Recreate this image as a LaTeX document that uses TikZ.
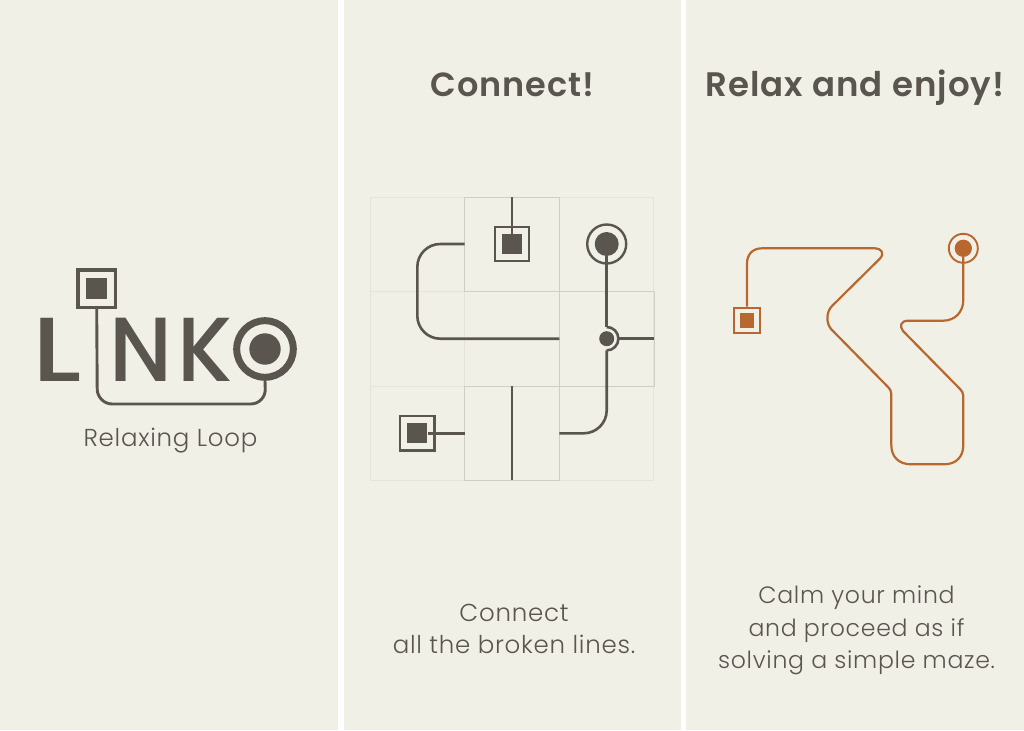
\documentclass[tikz,border=0pt]{standalone}
\usepackage{fontspec}
\setmainfont{Poppins}
\newfontfamily\lightf[LetterSpace=3]{Poppins Light}
\newfontfamily\medf{Poppins Medium}
\newfontfamily\headf[LetterSpace=3]{Poppins SemiBold}
\definecolor{paper}{HTML}{F1F0E7}
\definecolor{ink}{HTML}{5A554F}
\definecolor{rust}{HTML}{B8682E}
\definecolor{gridA}{HTML}{E5E4DB}
\definecolor{gridB}{HTML}{CFCEC4}
\tikzset{
  panel/.style={fill=paper,draw=none},
  logoletter/.style={text=ink,inner sep=0pt,anchor=base,font=\medf\fontsize{91}{91}\selectfont},
  caption/.style={text=ink,inner sep=0pt,anchor=base,font=\lightf\fontsize{24.5}{24.5}\selectfont},
  captionb/.style={text=ink,inner sep=0pt,anchor=base,font=\lightf\fontsize{23.6}{23.6}\selectfont},
  heading/.style={text=ink,inner sep=0pt,anchor=base,font=\headf\fontsize{#1}{#1}\selectfont},
  softcell/.style={draw=gridA,line width=0.8pt},
  hardcell/.style={draw=gridB,line width=1pt},
  wire/.style={draw=ink,line width=2.6pt,line cap=butt},
  rwire/.style={draw=rust,line width=2.2pt,line join=round},
  box/.style={draw=#1,rectangle,inner sep=0pt,fill=none},
  dot/.style={fill=#1,draw=none,inner sep=0pt},
}
\begin{document}
\begin{tikzpicture}[x=1pt,y=-1pt]
\useasboundingbox (0,0) rectangle (1024,730);
\fill[white] (0,0) rectangle (1024,730);
\path[panel] (0,0) rectangle (338,730);
\path[panel] (343.5,0) rectangle (681,730);
\path[panel] (686,0) rectangle (1024,730);
% --- logo
\node[logoletter,xscale=1.22,transform shape] (L) at (57,381) {L};
\node[logoletter,xscale=0.96,transform shape] (N) at (140.5,381) {N};
\node[logoletter,xscale=0.96,transform shape] (K) at (205,381) {K};
\node[box=ink,line width=3.5pt,minimum size=37.5pt] (ls) at (96.7,288.7) {};
\node[dot=ink,rectangle,minimum size=20.5pt] (lsi) at (96.7,288.7) {};
\node[circle,draw=ink,line width=7pt,minimum size=56.6pt,inner sep=0pt] (lc) at (265,349) {};
\node[dot=ink,circle,minimum size=31.4pt] (lci) at (265,349) {};
\draw[wire,line width=2.9pt,rounded corners=15pt] (ls.south) -- (97.3,404) -- (265.7,404) -- (lc.south);
\node[caption] (rl) at (170.5,446) {Relaxing Loop};
% --- headings
\node[heading=33.5] (h1) at (512.5,97) {Connect!};
\node[heading=34] (h2) at (855,97) {Relax and enjoy!};
% --- grid
\foreach \x/\y in {370/197,559.3/197,370/291.7,370/386,559.3/386}
  \draw[softcell] (\x,\y) rectangle ++(94.5,94.5);
\foreach \x/\y in {464.7/197,464.7/291.7,464.7/386,559.3/291.7}
  \draw[softcell] (\x,\y) rectangle ++(94.5,94.5);
\draw[hardcell] (464.7,197) rectangle (559.3,291.7);
\draw[hardcell] (559.3,291.7) rectangle (654,386);
\draw[hardcell] (464.7,386) rectangle (559.3,480.3);
% --- puzzle
\coordinate (top) at (512,197);
\coordinate (botA) at (512,386);
\coordinate (botB) at (512,480.3);
\node[box=ink,line width=2.4pt,minimum size=34.5pt] (s1) at (512,244) {};
\node[dot=ink,rectangle,minimum size=20pt] (s1i) at (512,244) {};
\draw[wire] (top) -- (s1i.north);
\node[box=ink,line width=2.4pt,minimum size=34.5pt] (s2) at (417.3,433.3) {};
\node[dot=ink,rectangle,minimum size=20pt] (s2i) at (417.3,433.3) {};
\coordinate (s2e) at (464.7,433.3);
\draw[wire] (s2i.east) -- (s2e);
\node[circle,draw=ink,line width=2.4pt,minimum size=39pt,inner sep=0pt] (c1) at (606.7,244) {};
\node[dot=ink,circle,minimum size=24pt] (c1i) at (606.7,244) {};
\node[dot=ink,circle,minimum size=15pt] (j) at (606.7,338.7) {};
\coordinate (jt) at (606.7,327);
\coordinate (jb) at (606.7,350.4);
\coordinate (jr) at (618.4,338.7);
\coordinate (jre) at (654,338.7);
\draw[wire] (c1i.south) -- (jt);
\draw[wire] (jt) arc[start angle=-90,end angle=90,radius=11.7];
\draw[wire] (jr) -- (jre);
\coordinate (a1) at (464.7,244);
\coordinate (a2) at (559.3,338.7);
\draw[wire,rounded corners=23pt] (a1) -- (417.3,244) -- (417.3,338.7) -- (a2);
\coordinate (a3) at (559.3,433.3);
\draw[wire,rounded corners=23pt] (jb) -- (606.7,433.3) -- (a3);
\draw[wire] (botA) -- (botB);
\node[caption] (c11) at (514,621) {Connect};
\node[caption] (c12) at (514,653) {all the broken lines.};
% --- solved
\node[box=rust,line width=2pt,minimum size=25.5pt] (r1) at (747,320.3) {};
\node[dot=rust,rectangle,minimum size=14.7pt] (r1i) at (747,320.3) {};
\node[circle,draw=rust,line width=1.9pt,minimum size=29pt,inner sep=0pt] (r2) at (963.3,248.3) {};
\node[dot=rust,circle,minimum size=17.3pt] (r2i) at (963.3,248.3) {};
\draw[rwire] (r1.north) -- (747,263.5)
  .. controls (747,254) and (753,248.3) .. (762,248.3)
  -- (875,248.3)
  .. controls (881,248.3) and (885,253) .. (880,258.5)
  -- (832,306)
  .. controls (826,312) and (826,323) .. (831,329)
  -- (888,387)
  .. controls (890,389) and (891.3,391) .. (891.3,394)
  -- (891.3,445)
  .. controls (891.3,457) and (899,464.3) .. (911,464.3)
  -- (944,464.3)
  .. controls (956,464.3) and (963.3,457) .. (963.3,445)
  -- (963.3,396)
  .. controls (963.3,393) and (962,391) .. (960,389)
  -- (903,331)
  .. controls (899,326) and (901,320.7) .. (908,320.7)
  -- (943,320.7)
  .. controls (955,320.7) and (963.3,312) .. (963.3,300)
  -- (r2i.south);
\node[captionb] (c21) at (856.5,603) {Calm your mind};
\node[captionb] (c22) at (856.5,636) {and proceed as if};
\node[captionb] (c23) at (856.5,668) {solving a simple maze.};
\end{tikzpicture}
\end{document}
